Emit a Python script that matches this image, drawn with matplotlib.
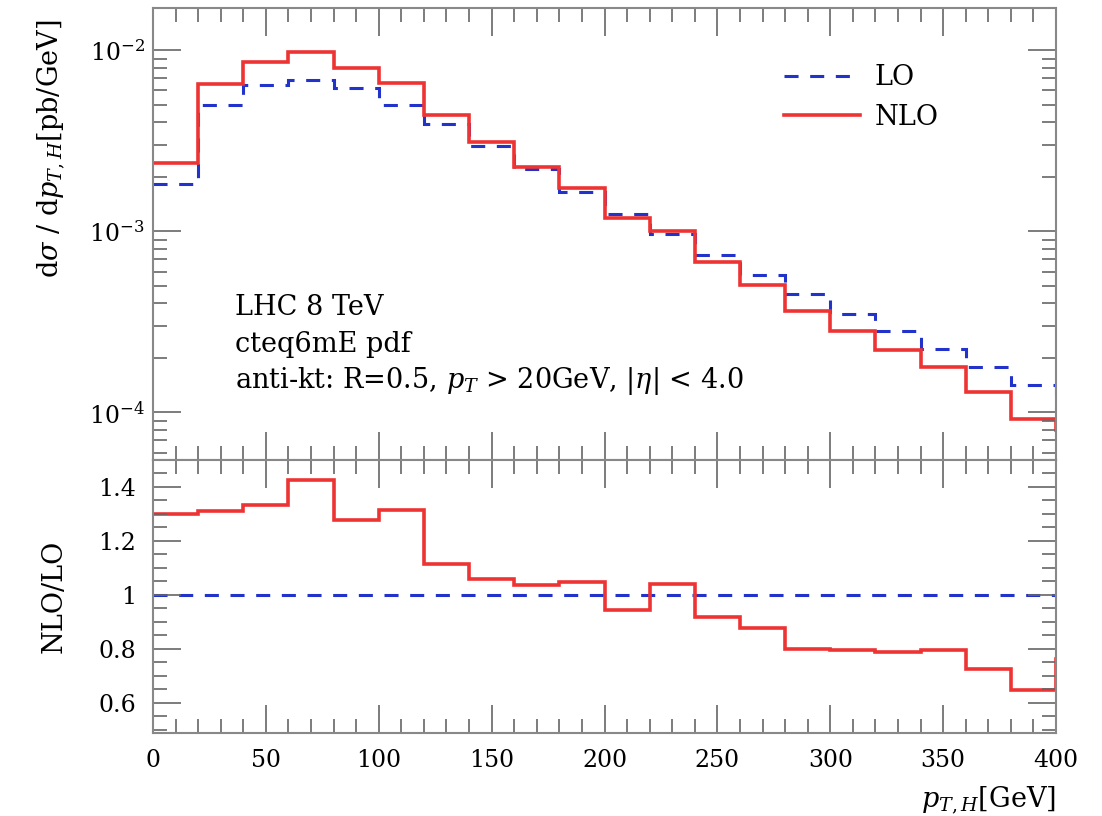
import numpy as np
import matplotlib
matplotlib.use("Agg")
import matplotlib.pyplot as plt
from matplotlib.ticker import LogLocator, MultipleLocator, FuncFormatter, NullFormatter

plt.rcParams['font.family'] = ['DejaVu Serif']
plt.rcParams['mathtext.fontset'] = 'dejavuserif'

# 20 GeV bins in p_T,H; the last bin (400-420) is the overflow, cut by the x range
edges = np.arange(0, 440, 20)
lo = [1.83e-3, 5.0e-3, 6.45e-3, 6.83e-3, 6.22e-3, 5.0e-3, 3.94e-3, 2.96e-3,
      2.20e-3, 1.66e-3, 1.25e-3, 0.97e-3, 7.37e-4, 5.76e-4, 4.53e-4, 3.51e-4,
      2.80e-4, 2.25e-4, 1.78e-4, 1.41e-4, 1.05e-4]
nlo = [2.38e-3, 6.55e-3, 8.6e-3, 9.75e-3, 7.95e-3, 6.58e-3, 4.39e-3, 3.13e-3,
       2.28e-3, 1.74e-3, 1.18e-3, 1.01e-3, 6.78e-4, 5.05e-4, 3.62e-4, 2.80e-4,
       2.21e-4, 1.79e-4, 1.29e-4, 9.14e-5, 8.0e-5]

lo = np.array(lo)
nlo = np.array(nlo)
ratio = nlo / lo

blue = '#2233cc'
red = '#ee3333'
gray = '#666666'

fig = plt.figure(figsize=(11.02, 8.16), dpi=100)
ax = fig.add_axes([0.1388, 0.4363, 0.8195, 0.5535])
axr = fig.add_axes([0.1388, 0.1021, 0.8195, 0.3342], sharex=ax)

ax.stairs(lo, edges, baseline=None, color=blue, lw=2.2, ls=(0, (4.6, 3.8)), label='LO')
ax.stairs(nlo, edges, baseline=None, color=red, lw=2.6, label='NLO')
ax.set_yscale('log')
ax.set_ylim(5.46e-5, 1.706e-2)
ax.set_xlim(0, 400)

axr.stairs(lo / lo, edges, baseline=None, color=blue, lw=2.2, ls=(0, (4.6, 3.8)))
axr.stairs(ratio, edges, baseline=None, color=red, lw=2.6)
axr.set_ylim(0.49, 1.5)

for a in (ax, axr):
    for s in a.spines.values():
        s.set_color('#888888')
        s.set_linewidth(1.5)
    a.tick_params(which='both', direction='in', top=True, right=True,
                  color=gray, width=1.2, labelsize=17)
    a.tick_params(which='major', length=20)
    a.tick_params(which='minor', length=10)
    a.xaxis.set_major_locator(MultipleLocator(50))
    a.xaxis.set_minor_locator(MultipleLocator(10))

ax.yaxis.set_major_locator(LogLocator(base=10))
ax.yaxis.set_minor_locator(LogLocator(base=10, subs=np.arange(2, 10)))
ax.yaxis.set_minor_formatter(NullFormatter())
ax.tick_params(axis='y', pad=6)
ax.tick_params(axis='x', labelbottom=False)

axr.yaxis.set_major_locator(MultipleLocator(0.2))
axr.yaxis.set_minor_locator(MultipleLocator(0.05))
axr.yaxis.set_major_formatter(FuncFormatter(lambda v, p: '%g' % round(v, 2)))
axr.tick_params(axis='y', pad=12)
axr.tick_params(axis='x', pad=12)

ax.set_ylabel(r'd$\sigma$ / d$p_{T,H}$[pb/GeV]', fontsize=19.5)
ax.yaxis.set_label_coords(-0.095, 0.69)
axr.set_ylabel('NLO/LO', fontsize=19.5)
axr.yaxis.set_label_coords(-0.095, 0.5)
axr.set_xlabel(r'$p_{T,H}$[GeV]', fontsize=19.5, ha='right')
axr.xaxis.set_label_coords(1.0, -0.19)

ax.text(0.091, 0.321, 'LHC 8 TeV', transform=ax.transAxes, fontsize=19.5)
ax.text(0.091, 0.239, 'cteq6mE pdf', transform=ax.transAxes, fontsize=19.5)
ax.text(0.091, 0.159, r'anti-kt: R=0.5, $p_T$ > 20GeV, $|\eta|$ < 4.0',
        transform=ax.transAxes, fontsize=19.5)

ax.legend(loc='upper left', bbox_to_anchor=(0.672, 0.93), frameon=False,
          fontsize=19.5, handlelength=2.8, handletextpad=0.55, labelspacing=0.45)

fig.savefig('out.png', dpi=100)
